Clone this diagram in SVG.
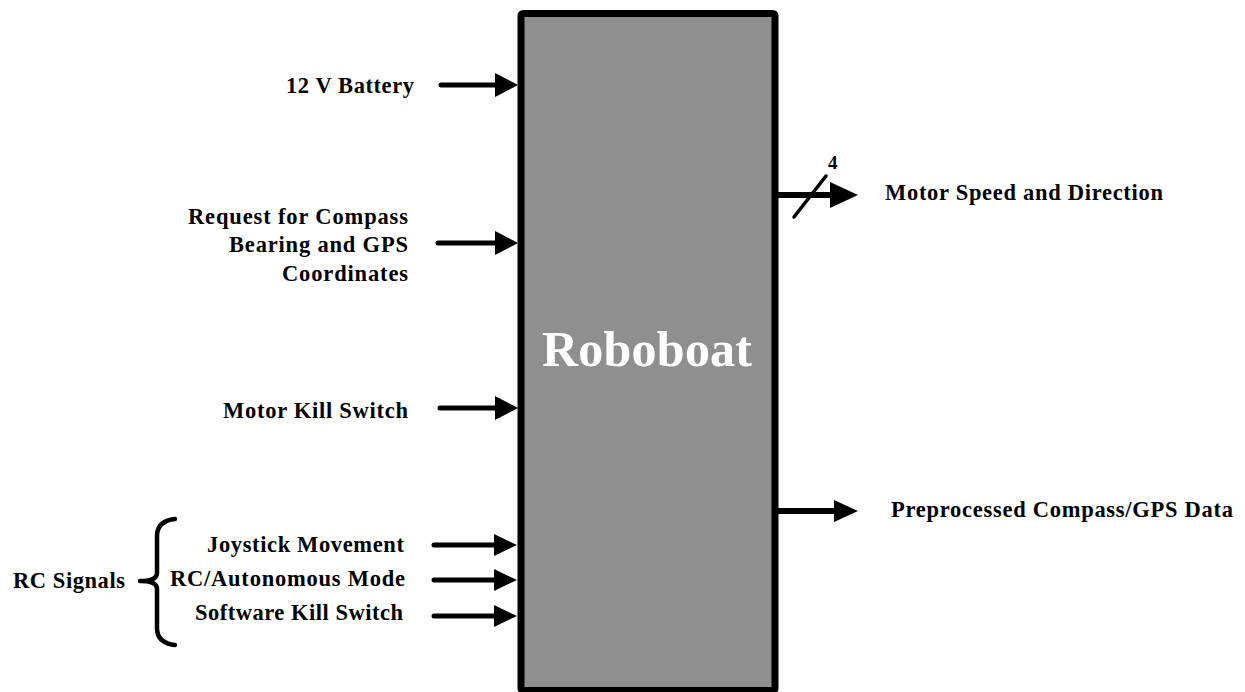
<svg xmlns="http://www.w3.org/2000/svg" width="1245" height="692" viewBox="0 0 1245 692">
<style>
.lbl{font-family:"Liberation Serif","Times New Roman",serif;font-weight:bold;font-size:22.5px;fill:#000}
.wire{stroke:#000;stroke-width:5;stroke-linecap:round;fill:none}
.head{fill:#000}
</style>
<rect width="1245" height="692" fill="#fff"/>
<g id="roboboat">
<rect x="521" y="13.5" width="254" height="677" rx="2" fill="#8f8f8f" stroke="#000" stroke-width="7"/>
<text x="647" y="366" text-anchor="middle" textLength="210" lengthAdjust="spacing" style="font-family:'Liberation Serif','Times New Roman',serif;font-weight:bold;font-size:50px;fill:#fff">Roboboat</text>
</g>
<g id="labels-in">
<text class="lbl" x="286" y="93" textLength="128" lengthAdjust="spacing">12 V Battery</text>
<text class="lbl" x="188" y="224" textLength="220" lengthAdjust="spacing">Request for Compass</text>
<text class="lbl" x="229" y="252" textLength="179" lengthAdjust="spacing">Bearing and GPS</text>
<text class="lbl" x="282" y="281" textLength="126" lengthAdjust="spacing">Coordinates</text>
<text class="lbl" x="223" y="418" textLength="185" lengthAdjust="spacing">Motor Kill Switch</text>
<text class="lbl" x="207" y="552" textLength="197" lengthAdjust="spacing">Joystick Movement</text>
<text class="lbl" x="170" y="586" textLength="235" lengthAdjust="spacing">RC/Autonomous Mode</text>
<text class="lbl" x="195" y="620" textLength="208" lengthAdjust="spacing">Software Kill Switch</text>
<text class="lbl" x="13" y="588" textLength="112" lengthAdjust="spacing">RC Signals</text>
</g>
<g id="labels-out">
<text class="lbl" x="885" y="200" textLength="278" lengthAdjust="spacing">Motor Speed and Direction</text>
<text class="lbl" x="891" y="517" textLength="342" lengthAdjust="spacing">Preprocessed Compass/GPS Data</text>
<text class="lbl" x="828" y="169" style="font-size:19px">4</text>
</g>
<g id="brace">
<path d="M175,519 Q157,521 157,536 L157,573 Q157,581 140,581 Q157,581 157,589 L157,628 Q157,643 175,645" fill="none" stroke="#000" stroke-width="4.5" stroke-linecap="round" stroke-linejoin="round"/>
</g>
<g id="connectors">
<line class="wire" x1="441" y1="85" x2="500" y2="85"/>
<polygon class="head" points="495,73 518,85 495,97"/>
<line class="wire" x1="438" y1="243" x2="500" y2="243"/>
<polygon class="head" points="495,231 518,243 495,255"/>
<line class="wire" x1="440" y1="408" x2="500" y2="408"/>
<polygon class="head" points="495,396 518,408 495,420"/>
<line class="wire" x1="434" y1="545" x2="498" y2="545"/>
<polygon class="head" points="494,534 517,545 494,556"/>
<line class="wire" x1="434" y1="580" x2="498" y2="580"/>
<polygon class="head" points="494,569 517,580 494,591"/>
<line class="wire" x1="434" y1="616" x2="498" y2="616"/>
<polygon class="head" points="494,605 517,616 494,627"/>
<line x1="778" y1="195" x2="835" y2="195" stroke="#000" stroke-width="6"/>
<polygon class="head" points="830,182 858,195 830,208"/>
<line x1="794" y1="217" x2="826" y2="176" stroke="#000" stroke-width="3.5" stroke-linecap="round"/>
<line x1="778" y1="511" x2="838" y2="511" stroke="#000" stroke-width="6"/>
<polygon class="head" points="834,500 858,511 834,522"/>
</g>
</svg>
